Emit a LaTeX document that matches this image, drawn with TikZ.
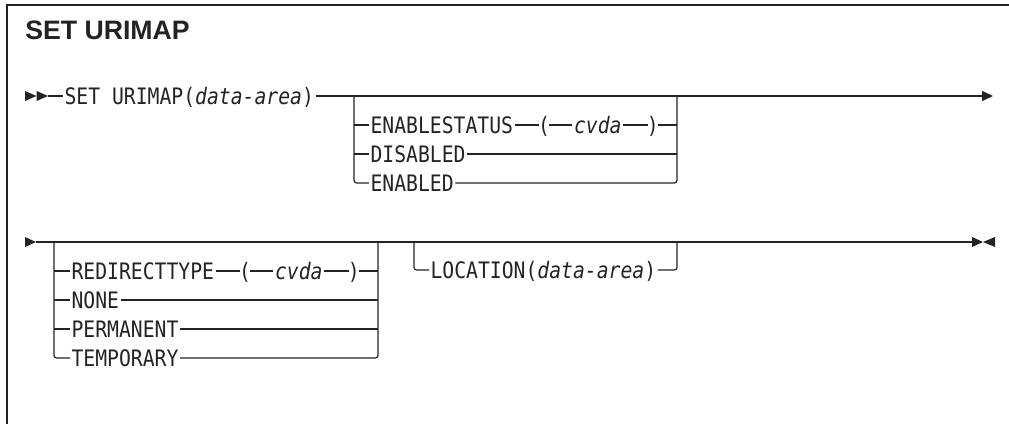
\documentclass[tikz,border=0pt]{standalone}
\usepackage{fontspec}
\usepackage{tikz}
\usetikzlibrary{arrows.meta,positioning,calc}
\newfontfamily\rrfont[FakeStretch=0.87,ItalicFont={DejaVu Sans Mono Oblique}]{DejaVu Sans Mono}
\newfontfamily\headfont{Liberation Sans}
\definecolor{rrline}{RGB}{35,35,35}

\begin{document}
\begin{tikzpicture}[x=0.75pt, y=-0.75pt,
    kw/.style={inner xsep=1pt, inner ysep=0pt, text height=13.4pt, text depth=0pt,
        anchor=west, text=rrline, font=\rrfont\fontsize{17}{19}\selectfont},
    paren/.style={kw, inner xsep=-1pt},
    rail/.style={line width=0.9pt, rrline},
    fork/.style={rail, rounded corners=2pt},
    endarr/.style={rail, -{Triangle[length=8.25pt,width=7.5pt]}}
]
    \useasboundingbox (0,0) rectangle (1009,424);

    % Frame and title
    \draw[line width=1.1pt, rrline] (7,424) -- (7,5) -- (1009,5);
    \node[anchor=base west, inner sep=0pt, text=rrline,
        font=\headfont\bfseries\fontsize{20}{24}\selectfont] (title) at (25,40) {SET URIMAP};

    % First line
    \fill[rrline] (25,91) -- (36.5,96) -- (25,101) -- cycle;
    \fill[rrline] (36.5,91) -- (48,96) -- (36.5,101) -- cycle;
    \coordinate (s1) at (48,96);
    \coordinate (e1) at (993,96);
    \coordinate (b1L) at (354,96);
    \coordinate (b1R) at (677,96);
    \node[kw] (setcmd) at (63,96) {SET URIMAP(\textit{data-area})};
    \draw[rail] (s1) -- (setcmd.west);
    \draw[endarr] (setcmd.east) -- (e1);

    % ENABLESTATUS choices
    \node[kw] (es) at (369,125) {ENABLESTATUS};
    \node[paren, right=18.4pt of es] (lp1) {(};
    \node[kw, right=17.6pt of lp1] (cv1) {\textit{cvda}};
    \node[paren, right=18.7pt of cv1] (rp1) {)};
    \node[kw] (ds) at (369,154) {DISABLED};
    \node[kw] (en) at (369,183) {ENABLED};

    \draw[fork] (b1L) |- (en.west);
    \draw[fork] (en.east) -| (b1R);
    \draw[rail] (b1L |- es.west) -- (es.west);
    \draw[rail] (es) -- (lp1);
    \draw[rail] (lp1) -- (cv1);
    \draw[rail] (cv1) -- (rp1);
    \draw[rail] (rp1.east) -- (b1R |- rp1.east);
    \draw[rail] (b1L |- ds.west) -- (ds.west);
    \draw[rail] (ds.east) -- (b1R |- ds.east);

    % Second line
    \fill[rrline] (25,237) -- (36,242) -- (25,247) -- cycle;
    \fill[rrline] (972,237) -- (983,242) -- (972,247) -- cycle;
    \fill[rrline] (995,237) -- (983,242) -- (995,247) -- cycle;
    \coordinate (s2) at (36,242);
    \coordinate (e2) at (972,242);
    \coordinate (b2L) at (54,242);
    \coordinate (b2R) at (378,242);
    \coordinate (b3L) at (414,242);
    \coordinate (b3R) at (677,242);
    \draw[rail] (s2) -- (e2);

    % REDIRECTTYPE choices
    \node[kw] (rt) at (70,271) {REDIRECTTYPE};
    \node[paren, right=18.4pt of rt] (lp2) {(};
    \node[kw, right=17.6pt of lp2] (cv2) {\textit{cvda}};
    \node[paren, right=18.7pt of cv2] (rp2) {)};
    \node[kw] (nn) at (70,300) {NONE};
    \node[kw] (pm) at (70,329) {PERMANENT};
    \node[kw] (tp) at (70,358) {TEMPORARY};

    \draw[fork] (b2L) |- (tp.west);
    \draw[fork] (tp.east) -| (b2R);
    \draw[rail] (b2L |- rt.west) -- (rt.west);
    \draw[rail] (rt) -- (lp2);
    \draw[rail] (lp2) -- (cv2);
    \draw[rail] (cv2) -- (rp2);
    \draw[rail] (rp2.east) -- (b2R |- rp2.east);
    \draw[rail] (b2L |- nn.west) -- (nn.west);
    \draw[rail] (nn.east) -- (b2R |- nn.east);
    \draw[rail] (b2L |- pm.west) -- (pm.west);
    \draw[rail] (pm.east) -- (b2R |- pm.east);

    % LOCATION option
    \node[kw] (loc) at (429,270) {LOCATION(\textit{data-area})};
    \draw[fork] (b3L) |- (loc.west);
    \draw[fork] (loc.east) -| (b3R);
    \draw[line width=1.4pt, rrline] ($(b3R)+(6,-0.3)$) -- ++(24,0);
\end{tikzpicture}
\end{document}
